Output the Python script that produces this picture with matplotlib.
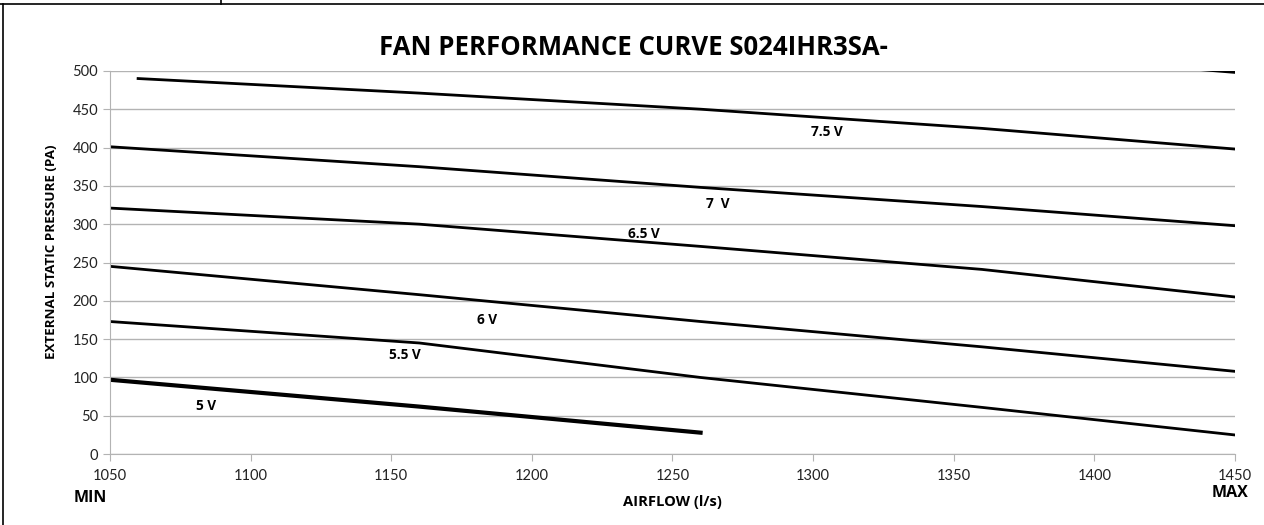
import matplotlib
matplotlib.use("Agg")
import matplotlib.pyplot as plt
from matplotlib.lines import Line2D

plt.rcParams['font.family'] = ['Lato', 'DejaVu Sans']
BOLD = ['Open Sans', 'DejaVu Sans']

airflow = [1050, 1160, 1260, 1360, 1450]

v8_x = [1360, 1450]
v8_y = [525, 498]
v75_x = [1060, 1160, 1260, 1360, 1450]
v75_y = [490, 471, 450, 425, 398]
v7_y = [401, 375, 348, 323, 298]
v65_y = [321, 300, 271, 241, 205]
v6_y = [245, 208, 173, 140, 108]
v55_y = [173, 145, 100, 61, 25]
v5_x = [1050, 1160, 1260]
v5_y = [97, 62, 28]

labels = ["7.5 V", "7  V", "6.5 V", "6 V", "5.5 V", "5 V"]
label_x = [1305, 1266, 1240, 1184, 1155, 1084]
label_y = [420, 326, 287, 175, 129, 63]

fig = plt.figure(figsize=(12.64, 5.25), dpi=100)
ax = fig.add_axes([0.087, 0.135, 0.890, 0.730])

ax.plot(v8_x, v8_y, color='black', lw=2)
ax.plot(v75_x, v75_y, color='black', lw=2)
ax.plot(airflow, v7_y, color='black', lw=2)
ax.plot(airflow, v65_y, color='black', lw=2)
ax.plot(airflow, v6_y, color='black', lw=2)
ax.plot(airflow, v55_y, color='black', lw=2)
ax.plot(v5_x, v5_y, color='black', lw=3)

for t, x, y in zip(labels, label_x, label_y):
    ax.text(x, y, t, fontsize=9.8, fontweight='bold', family=BOLD, ha='center', va='center')

ax.set_xlim(1050, 1450)
ax.set_ylim(0, 500)
ax.set_xticks(range(1050, 1451, 50))
ax.set_yticks(range(0, 501, 50))
ax.grid(axis='y', color='#b3b3b3', lw=1)
ax.set_axisbelow(True)
for s in ['top', 'right']:
    ax.spines[s].set_visible(False)
for s in ['left', 'bottom']:
    ax.spines[s].set_color('#b3b3b3')
ax.tick_params(axis='both', colors='#b3b3b3', labelcolor='#222222', labelsize=10.5, length=5)
ax.tick_params(axis='x', pad=6)

ax.set_ylabel("EXTERNAL STATIC PRESSURE (PA)", fontsize=9.6, fontweight='bold', family=BOLD)
ax.yaxis.set_label_coords(-0.046, 0.527)
ax.set_xlabel("AIRFLOW (l/s)", fontsize=10.6, fontweight='bold', family=BOLD, labelpad=8)

fig.text(0.501, 0.91, "FAN PERFORMANCE CURVE S024IHR3SA-", fontsize=18.5, fontweight='bold',
         family=BOLD, ha='center', va='center')
fig.text(0.058, 0.052, "MIN", fontsize=11.5, fontweight='bold', family=BOLD, ha='left', va='center')
fig.text(0.988, 0.061, "MAX", fontsize=11.5, fontweight='bold', family=BOLD, ha='right', va='center')

# frame lines from the surrounding table
fig.add_artist(Line2D([0.0025, 0.0025], [0, 0.992], color='black', lw=1.2))
fig.add_artist(Line2D([0, 1], [0.992, 0.992], color='black', lw=1.2))
fig.add_artist(Line2D([0.175, 0.175], [0.992, 1], color='black', lw=1.2))

fig.savefig("out.png", dpi=100)
